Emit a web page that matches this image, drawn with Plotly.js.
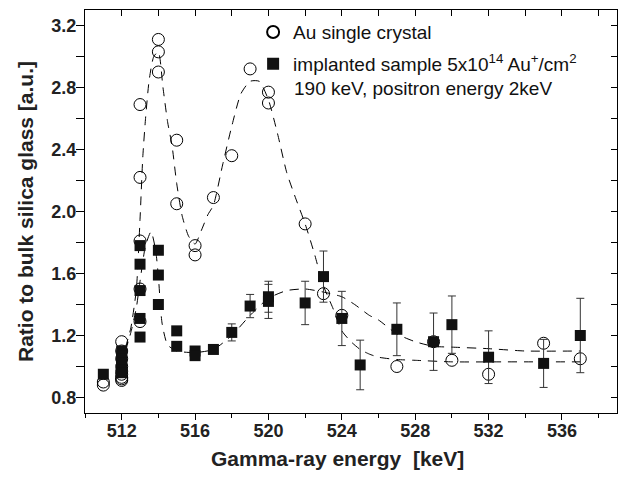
<!DOCTYPE html>
<html><head><meta charset="utf-8">
<script src="https://cdn.plot.ly/plotly-3.0.1.min.js"></script>
<style>html,body{margin:0;padding:0;background:#fff}#chart{width:625px;height:477px}</style>
</head><body><div id="chart"></div>
<script>
// Au single crystal (open circles)
const auX = [511, 511, 512, 512, 512, 512, 512, 512, 512, 512, 512, 513, 513, 513, 513, 513, 514, 514, 514, 515, 515, 516, 516, 517, 518, 519, 520, 520, 522, 523, 524, 527, 529, 530, 532, 535, 537];
const auY = [0.88, 0.90, 1.16, 1.10, 1.05, 1.00, 0.97, 0.95, 0.93, 0.92, 0.91, 1.81, 1.50, 1.29, 2.22, 2.69, 3.11, 3.03, 2.90, 2.46, 2.05, 1.78, 1.72, 2.09, 2.36, 2.92, 2.77, 2.70, 1.92, 1.47, 1.33, 1.00, 1.16, 1.04, 0.95, 1.15, 1.05];
// implanted sample (filled squares)
const sqX = [511, 512, 512, 512, 512, 512, 512, 512, 513, 513, 513, 513, 513, 514, 514, 514, 515, 515, 516, 516, 517, 518, 519, 520, 520, 522, 523, 524, 525, 527, 529, 530, 532, 535, 537];
const sqY = [0.95, 1.10, 1.07, 1.05, 1.02, 1.00, 0.98, 0.96, 1.78, 1.66, 1.49, 1.31, 1.19, 1.75, 1.59, 1.40, 1.23, 1.13, 1.10, 1.07, 1.11, 1.22, 1.39, 1.45, 1.42, 1.41, 1.58, 1.31, 1.01, 1.24, 1.16, 1.27, 1.06, 1.02, 1.20];
const sqErr = [0, 0, 0, 0, 0, 0, 0, 0, 0, 0, 0, 0, 0, 0, 0, 0, 0, 0, 0, 0, 0, 0.055, 0.075, 0.10, 0.11, 0.14, 0.165, 0.175, 0.16, 0.17, 0.185, 0.185, 0.17, 0.155, 0.24];
// dashed guide curves
const auFitX = [512.2, 512.5, 512.8, 513.0, 513.15, 513.3, 513.5, 513.75, 514.0, 514.25, 514.5, 514.75, 515.0, 515.3, 515.65, 516.0, 516.35, 516.7, 517.0, 517.5, 518.0, 518.5, 519.0, 519.5, 520.0, 520.5, 521.0, 521.5, 522.0, 522.5, 523.0, 523.5, 524.0, 524.5, 525.0, 525.5, 526.0, 527.0, 528.0, 530.0, 533.0, 537.0];
const auFitY = [1.12, 1.25, 1.50, 1.95, 2.35, 2.60, 2.85, 3.00, 3.03, 2.80, 2.58, 2.42, 2.18, 1.97, 1.84, 1.79, 1.88, 1.98, 2.04, 2.30, 2.55, 2.76, 2.84, 2.84, 2.72, 2.50, 2.25, 2.08, 1.92, 1.73, 1.52, 1.38, 1.23, 1.16, 1.11, 1.08, 1.06, 1.045, 1.04, 1.03, 1.03, 1.03];
const sqFitX = [512.2, 512.5, 512.8, 513.0, 513.3, 513.6, 513.85, 514.0, 514.2, 514.5, 515.0, 516.0, 517.0, 518.0, 519.0, 520.0, 521.0, 522.0, 523.0, 524.0, 524.7, 525.5, 526.0, 527.0, 528.0, 529.0, 530.0, 532.0, 534.0, 537.0];
const sqFitY = [1.10, 1.22, 1.38, 1.55, 1.78, 1.87, 1.75, 1.58, 1.28, 1.14, 1.10, 1.09, 1.11, 1.20, 1.33, 1.44, 1.49, 1.50, 1.48, 1.45, 1.40, 1.33, 1.30, 1.21, 1.16, 1.13, 1.125, 1.115, 1.10, 1.10];
const legendNames = ['Au single crystal', 'implanted sample 5x10<sup>14</sup> Au<sup>+</sup>/cm<sup>2</sup>'];
const noteText = '190 keV, positron energy 2keV';
const xTitle = 'Gamma-ray energy  [keV]';
const yTitle = 'Ratio to bulk silica glass [a.u.]';

const FONT = 'Liberation Sans, Arial, sans-serif';
const dashLine = {color: '#000', width: 1, dash: '9px,7px', shape: 'spline', smoothing: 0.6};
const traces = [
  {x: auFitX, y: auFitY, mode: 'lines', line: dashLine, showlegend: false, hoverinfo: 'skip'},
  {x: sqFitX, y: sqFitY, mode: 'lines', line: dashLine, showlegend: false, hoverinfo: 'skip'},
  {x: auX, y: auY, mode: 'markers', name: legendNames[0], legendgroup: 'a',
   marker: {symbol: 'circle-open', size: 12, color: '#000', line: {width: 1, color: '#000'}}},
  {x: sqX, y: sqY, mode: 'markers', name: legendNames[1], legendgroup: 'b',
   error_y: {type: 'data', array: sqErr, visible: true, color: '#333', thickness: 1, width: 4},
   marker: {symbol: 'square', size: 11, color: '#111', line: {width: 0}}}
];
const axBase = {showgrid: false, zeroline: false, showline: true, linecolor: '#000', linewidth: 1, ticks: 'outside', tickwidth: 1, tickcolor: '#000'};
const layout = {
  width: 625, height: 477,
  margin: {l: 85, r: 8, t: 10, b: 64},
  paper_bgcolor: '#fff', plot_bgcolor: '#fff',
  font: {family: FONT, color: '#000'},
  showlegend: true,
  legend: {x: 0.316, y: 0.992, xanchor: 'left', yanchor: 'top', bgcolor: 'rgba(0,0,0,0)', font: {size: 19, family: FONT, color: '#111'}, tracegroupgap: 4, itemsizing: 'constant'},
  xaxis: Object.assign({}, axBase, {range: [510, 539], tickvals: [512, 516, 520, 524, 528, 532, 536], ticklen: 6, ticklabelstandoff: -5,
    tickfont: {size: 18, family: FONT, weight: 'bold', color: '#222'},
    minor: {dtick: 2, ticks: 'outside', ticklen: 4, tickcolor: '#000'}, mirror: true}),
  yaxis: Object.assign({}, axBase, {range: [0.7, 3.3], tickvals: [0.8, 1.2, 1.6, 2.0, 2.4, 2.8, 3.2], tickformat: '.1f', ticklen: 8, ticklabelstandoff: -4,
    tickfont: {size: 18, family: FONT, weight: 'bold', color: '#222'},
    minor: {dtick: 0.2, tick0: 0, ticks: 'outside', ticklen: 8, tickcolor: '#000'}, mirror: true,
    title: {text: '<b>' + yTitle + '</b>', font: {size: 21, family: FONT, color: '#222'}, standoff: 12}}),
  xaxis2: {overlaying: 'x', side: 'top', range: [510, 539], showgrid: false, zeroline: false, showticklabels: false, ticks: 'inside', ticklen: 6, tickcolor: '#000', tick0: 510, dtick: 2},
  yaxis2: {overlaying: 'y', side: 'right', range: [0.7, 3.3], showgrid: false, zeroline: false, showticklabels: false, ticks: 'inside', ticklen: 6, tickcolor: '#000', tick0: 0, dtick: 0.2},
  annotations: [
    {xref: 'paper', yref: 'paper', x: 0.39, y: 0.806, xanchor: 'left', yanchor: 'middle', showarrow: false, text: noteText, font: {size: 19, family: FONT, color: '#111'}},
    {xref: 'paper', yref: 'paper', x: 0.474, y: -0.112, xanchor: 'center', yanchor: 'middle', showarrow: false, text: '<b>' + xTitle + '</b>', font: {size: 21, family: FONT, color: '#222'}}
  ]
};
// invisible trace to activate the mirrored top/right tick axes
traces.push({x: [510], y: [0.7], xaxis: 'x2', yaxis: 'y2', mode: 'markers', marker: {opacity: 0}, showlegend: false, hoverinfo: 'skip'});
Plotly.newPlot('chart', traces, layout, {displayModeBar: false, staticPlot: true});
</script></body></html>
